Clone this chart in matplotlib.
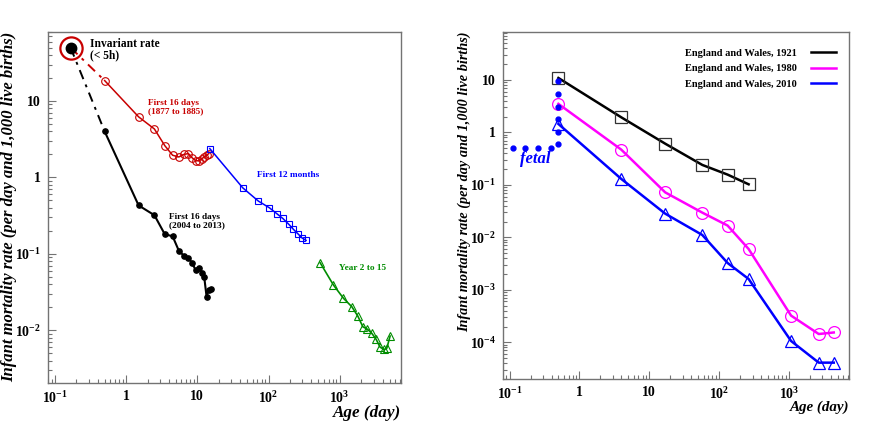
import matplotlib
matplotlib.use('Agg')
import matplotlib.pyplot as plt
from matplotlib.ticker import FixedLocator, FuncFormatter, NullFormatter, LogLocator
import numpy as np

plt.rcParams['font.family'] = ['Liberation Serif', 'DejaVu Serif']
plt.rcParams['font.weight'] = 'bold'
plt.rcParams['axes.labelweight'] = 'bold'
plt.rcParams['mathtext.fontset'] = 'custom'
plt.rcParams['mathtext.rm'] = 'Liberation Serif:bold'
plt.rcParams['mathtext.bf'] = 'Liberation Serif:bold'
plt.rcParams['mathtext.it'] = 'Liberation Serif:bold:italic'

# ---- left panel data ----
inv_age = [0.166]
inv_rate = [50.0]

# dash-dot link from the invariant rate to first day
red_link_age = [0.166, 0.5]
red_link_rate = [50.0, 18.5]
black_link_age = [0.166, 0.5]
black_link_rate = [50.0, 4.0]

red_age = [0.5, 1.5, 2.5, 3.5, 4.5, 5.5, 6.5, 7.5, 8.5, 9.5, 10.5, 11.5, 12.5, 13.5, 14.5]
red_rate = [18.5, 6.2, 4.3, 2.6, 1.95, 1.85, 2.0, 2.05, 1.8, 1.65, 1.65, 1.75, 1.85, 1.95, 2.05]

black_age = [0.5, 1.5, 2.5, 3.5, 4.5, 5.5, 6.5, 7.5, 8.5, 9.5, 10.5, 11.5, 12.5, 13.5, 14.5, 15.5]
black_rate = [4.0, 0.43, 0.32, 0.18, 0.17, 0.11, 0.094, 0.089, 0.075, 0.061, 0.066,
              0.056, 0.050, 0.0275, 0.034, 0.035]

month_age = [15, 43.5, 72, 103, 131, 159, 193, 224, 263, 294, 337]
month_rate = [2.38, 0.73, 0.49, 0.40, 0.335, 0.29, 0.243, 0.209, 0.18, 0.162, 0.150]

year_age = [531, 817, 1128, 1479, 1795, 2112, 2450, 2825, 3245, 3690, 4204, 4580, 5100]
year_rate = [0.0764, 0.039, 0.0262, 0.0203, 0.0153, 0.0111, 0.0103, 0.0091, 0.0076,
             0.0060, 0.0056, 0.0058, 0.0084]

# ---- right panel data ----
ew_age_1921 = [0.5, 3.97, 16.9, 57.4, 132, 264]
ew_rate_1921 = [10.9, 1.94, 0.61, 0.24, 0.157, 0.1026]

ew_age = [0.5, 3.97, 16.9, 57.4, 132, 264, 1069, 2660, 4365]
ew_rate_1980 = [3.5, 0.47, 0.072, 0.0296, 0.0168, 0.0060, 0.000323, 0.000144, 0.000154]
ew_rate_2010 = [1.45, 0.13, 0.0283, 0.0111, 0.00325, 0.00161, 0.000106, 4.1e-5, 4.1e-5]

fetal_age = [0.112, 0.167, 0.255, 0.386, 0.5, 0.5, 0.5, 0.5, 0.5, 0.5]
fetal_rate = [0.5, 0.5, 0.5, 0.5, 0.6, 1.03, 1.8, 3.1, 5.4, 9.6]

legend_labels = ['England and Wales, 1921', 'England and Wales, 1980', 'England and Wales, 2010']

red = '#c80000'
blue = '#0000ff'
green = '#008c00'
magenta = '#ff00ff'
gray = '0.45'
ylab = 'Infant mortality rate (per day and 1,000 live births)'


def tick_label(v, pos):
    e = int(round(np.log10(v)))
    if e == 0:
        return '1'
    if e == 1:
        return '10'
    return r'$10^{%d}$' % e


def style_axes(ax, xlim, ylim, yexp):
    ax.set_xscale('log')
    ax.set_yscale('log')
    ax.set_xlim(*xlim)
    ax.set_ylim(*ylim)
    ax.xaxis.set_major_locator(FixedLocator([0.1, 1, 10, 100, 1000]))
    ax.yaxis.set_major_locator(FixedLocator([10.0 ** e for e in yexp]))
    ax.xaxis.set_minor_locator(LogLocator(base=10, subs=np.arange(2, 10), numticks=20))
    ax.yaxis.set_minor_locator(LogLocator(base=10, subs=np.arange(2, 10), numticks=20))
    ax.xaxis.set_major_formatter(FuncFormatter(tick_label))
    ax.yaxis.set_major_formatter(FuncFormatter(tick_label))
    ax.xaxis.set_minor_formatter(NullFormatter())
    ax.yaxis.set_minor_formatter(NullFormatter())
    ax.tick_params(which='both', direction='in', colors=gray, labelcolor='black',
                   labelsize=10, top=False, right=False)
    ax.tick_params(which='major', length=6, width=0.8, pad=5)
    ax.tick_params(which='minor', length=3, width=0.8)
    for s in ax.spines.values():
        s.set_color(gray)
        s.set_linewidth(1.0)


fig = plt.figure(figsize=(8.72, 4.23), dpi=100)
ax1 = fig.add_axes([0.055, 0.0946, 0.405, 0.8298])
ax2 = fig.add_axes([0.577, 0.104, 0.397, 0.8204])

# ---------- left ----------
style_axes(ax1, (0.080, 7280), (0.00204, 80), [-2, -1, 0, 1])

ax1.plot(red_link_age, red_link_rate, color=red, lw=1.4, ls=(0, (5, 3, 1.5, 3)))
ax1.plot(black_link_age, black_link_rate, color='black', lw=1.4, ls=(0, (5, 3, 1.5, 3)))
ax1.plot(red_age, red_rate, color=red, lw=1.1, marker='o', ms=5.5, mfc='none', mec=red, mew=0.8)
ax1.plot(black_age, black_rate, color='black', lw=1.5, marker='o', ms=3.8, mfc='black', mec='black')
ax1.plot(month_age, month_rate, color=blue, lw=1.1, marker='s', ms=5, mfc='none', mec=blue, mew=0.8)
ax1.plot(year_age, year_rate, color=green, lw=1.2, marker='^', ms=5.5, mfc='none', mec=green, mew=0.8)
ax1.plot(inv_age, inv_rate, ls='none', marker='o', ms=7.5, color='black')
ax1.plot(inv_age, inv_rate, ls='none', marker='o', ms=16, mfc='none', mec=red, mew=1.6)

ax1.text(0.31, 47, 'Invariant rate\n(< 5h)', fontsize=8.3, ha='left', va='center', linespacing=0.9)
ax1.text(2.04, 8.4, 'First 16 days\n(1877 to 1885)', color=red, fontsize=6.7, ha='left', va='center',
         linespacing=1.0)
ax1.text(69, 1.07, 'First 12 months', color=blue, fontsize=6.7, ha='left', va='center')
ax1.text(4.0, 0.27, 'First 16 days\n(2004 to 2013)', color='black', fontsize=6.7, ha='left',
         va='center', linespacing=1.0)
ax1.text(980, 0.065, 'Year 2 to 15', color=green, fontsize=6.7, ha='left', va='center')

ax1.set_ylabel(ylab, fontsize=12, fontstyle='italic', ha='right')
ax1.yaxis.set_label_coords(-0.088, 1.0)
ax1.set_xlabel('Age (day)', fontsize=12.3, fontstyle='italic', ha='right')
ax1.xaxis.set_label_coords(1.0, -0.064)

# ---------- right ----------
style_axes(ax2, (0.081, 7290), (2.0e-5, 82), [-4, -3, -2, -1, 0, 1])

l1, = ax2.plot(ew_age_1921, ew_rate_1921, color='black', lw=1.8)
ax2.plot(ew_age_1921, ew_rate_1921, ls='none', marker='s', ms=8, mfc='none', mec='0.2', mew=0.9)
l2, = ax2.plot(ew_age, ew_rate_1980, color=magenta, lw=1.8)
ax2.plot(ew_age, ew_rate_1980, ls='none', marker='o', ms=8.5, mfc='none', mec=magenta, mew=0.9)
l3, = ax2.plot(ew_age, ew_rate_2010, color=blue, lw=1.8)
ax2.plot(ew_age, ew_rate_2010, ls='none', marker='^', ms=8.5, mfc='none', mec=blue, mew=0.9)
ax2.plot(fetal_age, fetal_rate, ls='none', marker='o', ms=3.5, color=blue)
ax2.text(0.139, 0.31, 'fetal', color=blue, fontsize=12, fontstyle='italic', ha='left', va='center')

ax2.legend([l1, l2, l3], legend_labels, loc='upper right', bbox_to_anchor=(0.99, 0.98),
           frameon=False, markerfirst=False, fontsize=7.5, handlelength=2.4,
           handletextpad=1.4, labelspacing=0.62)

ax2.set_ylabel(ylab, fontsize=10.3, fontstyle='italic', ha='right')
ax2.yaxis.set_label_coords(-0.092, 1.0)
ax2.set_xlabel('Age (day)', fontsize=10.8, fontstyle='italic', ha='right')
ax2.xaxis.set_label_coords(1.0, -0.062)

plt.savefig('out.png', dpi=100)
